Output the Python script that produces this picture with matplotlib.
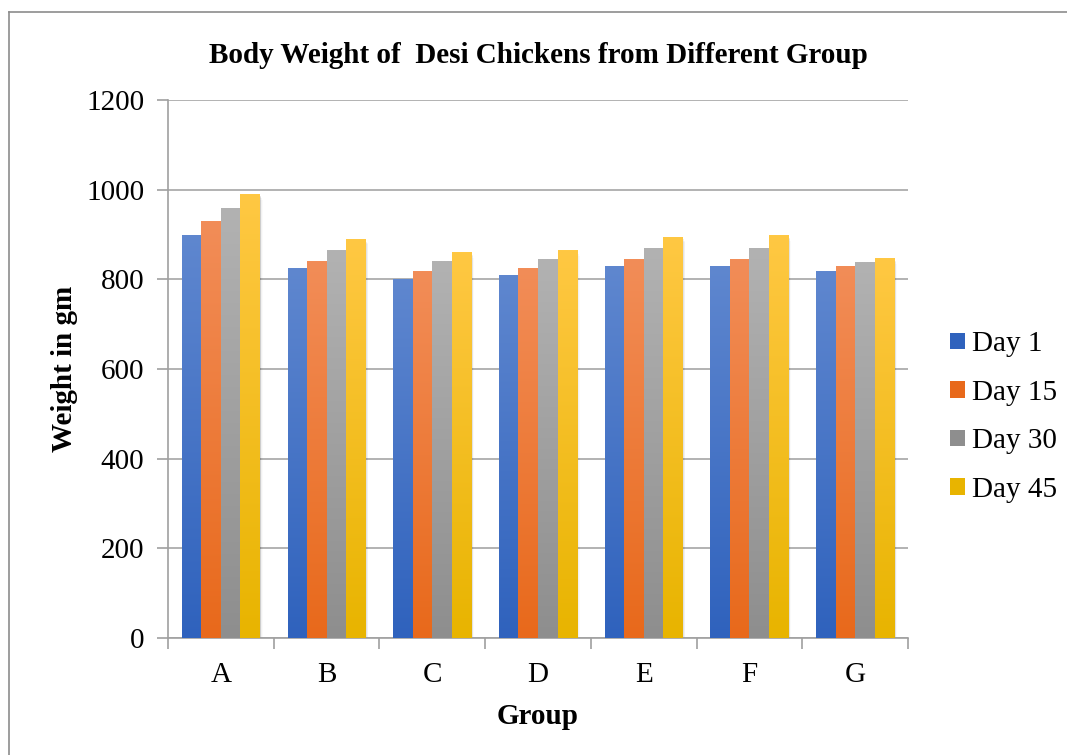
import numpy as np
import matplotlib.pyplot as plt
from matplotlib.colors import LinearSegmentedColormap
from matplotlib.lines import Line2D
from matplotlib.patches import Rectangle

groups = ["A", "B", "C", "D", "E", "F", "G"]
series = ["Day 1", "Day 15", "Day 30", "Day 45"]
day1 = [900, 825, 800, 810, 830, 830, 818]
day15 = [930, 840, 818, 825, 845, 845, 830]
day30 = [960, 865, 840, 845, 870, 870, 838]
day45 = [990, 890, 860, 865, 895, 898, 847]
values = [day1, day15, day30, day45]
y_ticks = [0, 200, 400, 600, 800, 1000, 1200]

# (top colour, bottom colour) for each series' vertical gradient
shades = [("#5f87cf", "#2f62bd"),
          ("#f28d58", "#e8691b"),
          ("#b2b2b2", "#8e8e8e"),
          ("#ffc843", "#e8b400")]

plt.rcParams["font.family"] = ["Liberation Serif", "DejaVu Serif"]

fig = plt.figure(figsize=(10.67, 7.55), dpi=100)
ax = fig.add_axes([0.1575, 0.155, 0.6935, 0.7125])

# frame around the chart area (right/bottom run off the page)
fig.add_artist(Line2D([9 / 1067, 9 / 1067], [0, 1 - 12 / 755],
                      transform=fig.transFigure, color="#8c8c8c", lw=1.2))
fig.add_artist(Line2D([9 / 1067, 1], [1 - 12 / 755, 1 - 12 / 755],
                      transform=fig.transFigure, color="#8c8c8c", lw=1.2))

x = np.arange(len(groups))
width = 0.185
offsets = (np.arange(len(series)) - 1.5) * width
grad = np.linspace(0, 1, 256).reshape(-1, 1)

for s, (name, vals, (top, bottom)) in enumerate(zip(series, values, shades)):
    cmap = LinearSegmentedColormap.from_list(name, [bottom, top])
    bars = ax.bar(x + offsets[s], vals, width, color=top, label=name,
                  zorder=3, linewidth=0)
    for bar in bars:
        bx, by = bar.get_x(), bar.get_y()
        bw, bh = bar.get_width(), bar.get_height()
        # soft shadow to the right of the bar
        for k, a in enumerate([0.09, 0.06, 0.035, 0.02]):
            ax.add_patch(Rectangle((bx + 0.006 * (k + 1), by), bw, bh - 3 * (k + 1),
                                   facecolor="black", alpha=a, lw=0, zorder=2.5))
        im = ax.imshow(grad, cmap=cmap, aspect="auto", origin="lower",
                       extent=(bx, bx + bw, by, by + bh), zorder=3.5)
        im.set_clip_path(bar)
        bar.set_facecolor("none")

ax.set_xlim(-0.5, len(groups) - 0.5)
ax.set_ylim(0, 1200)
ax.set_yticks(y_ticks)
ax.set_xticks(x)
ax.set_xticklabels(groups)
ax.set_xticks(np.arange(len(groups) + 1) - 0.5, minor=True)
ax.tick_params(axis="x", which="major", length=0, pad=17, labelsize=21)
ax.tick_params(axis="x", which="minor", length=8, color="#a0a0a0", width=1.2)
ax.tick_params(axis="y", length=8, color="#a0a0a0", width=1.2, pad=9, labelsize=21)

ax.grid(axis="y", color="#a6a6a6", lw=1.2, zorder=0)
for side in ["top", "right"]:
    ax.spines[side].set_visible(False)
for side in ["left", "bottom"]:
    ax.spines[side].set_color("#a0a0a0")
    ax.spines[side].set_linewidth(1.2)

ax.set_title("Body Weight of  Desi Chickens from Different Group",
             fontsize=21, fontweight="bold", pad=27)
ax.set_xlabel("Group", fontsize=21, fontweight="bold", labelpad=11)
ax.set_ylabel("Weight in gm", fontsize=21, fontweight="bold", labelpad=6)

labels = series
proxies = [Rectangle((0, 0), 1, 1, facecolor=b, lw=0) for t, b in shades]
ax.legend(proxies, labels, loc="center left", bbox_to_anchor=(950 / 1067, 1 - 417 / 755),
          bbox_transform=fig.transFigure, borderpad=0, borderaxespad=0,
          frameon=False, fontsize=21, handlelength=0.5, handleheight=0.5,
          handletextpad=0.25, labelspacing=0.77)

fig.savefig("out.png", dpi=100)
